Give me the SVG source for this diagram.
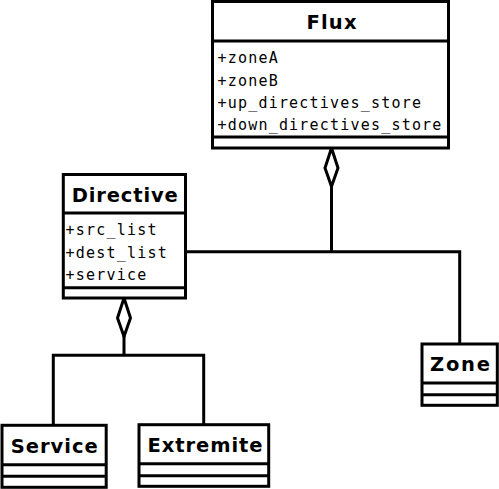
<svg xmlns="http://www.w3.org/2000/svg" width="499" height="489" viewBox="0 0 499 489">
<style>
.box{fill:#fff;stroke:#000;stroke-width:3}
.ln{fill:none;stroke:#000;stroke-width:3}
.dia{fill:#fff;stroke:#000;stroke-width:3;stroke-linejoin:miter}
.title{font-family:"DejaVu Sans",sans-serif;font-weight:bold;font-size:19.5px;text-anchor:middle;fill:#000}
.attr{font-family:"DejaVu Sans Mono",monospace;font-size:15px;letter-spacing:1.2px;fill:#000}
</style>
<rect width="499" height="489" fill="#fff"/>
<g id="connectors">
<polyline class="ln" points="331.5,186 331.5,251.7"/>
<polyline class="ln" points="185.5,251.7 459.7,251.7 459.7,344"/>
<polygon class="dia" points="331.5,148 338,168 331.5,186.5 325,168"/>
<polyline class="ln" points="124,336 124,355.3"/>
<polyline class="ln" points="53.3,425.3 53.3,355.3 203.7,355.3 203.7,424.7"/>
<polygon class="dia" points="124,298 130.5,318 124,336.5 117.5,318"/>
</g>
<g id="flux">
<rect class="box" x="212.5" y="1.5" width="236" height="146.5"/>
<line class="ln" x1="212.5" y1="41" x2="448.5" y2="41"/>
<line class="ln" x1="212.5" y1="137" x2="448.5" y2="137" stroke-width="3.5"/>
<text class="title" x="331.5" y="29.3" textLength="50" lengthAdjust="spacing">Flux</text>
<text class="attr" x="217.5" y="63.3">+zoneA</text>
<text class="attr" x="217.5" y="85.7">+zoneB</text>
<text class="attr" x="217.5" y="107.9">+up_directives_store</text>
<text class="attr" x="217.5" y="130.2">+down_directives_store</text>
</g>
<g id="directive">
<rect class="box" x="63.3" y="174.5" width="122.2" height="123.5"/>
<line class="ln" x1="63.3" y1="213" x2="185.5" y2="213"/>
<line class="ln" x1="63.3" y1="287.7" x2="185.5" y2="287.7"/>
<text class="title" x="124.7" y="202.3" textLength="106" lengthAdjust="spacing">Directive</text>
<text class="attr" x="65.6" y="235">+src_list</text>
<text class="attr" x="65.6" y="257.7">+dest_list</text>
<text class="attr" x="65.6" y="280">+service</text>
</g>
<g id="zone">
<rect class="box" x="422" y="344" width="75.3" height="61.3"/>
<line class="ln" x1="422" y1="383" x2="497.3" y2="383"/>
<line class="ln" x1="422" y1="394.7" x2="497.3" y2="394.7"/>
<text class="title" x="460" y="370.7" textLength="60" lengthAdjust="spacing">Zone</text>
</g>
<g id="service">
<rect class="box" x="2" y="425.3" width="104.2" height="62"/>
<line class="ln" x1="2" y1="464.7" x2="106.2" y2="464.7"/>
<line class="ln" x1="2" y1="476.3" x2="106.2" y2="476.3"/>
<text class="title" x="54.2" y="453.3" textLength="87" lengthAdjust="spacing">Service</text>
</g>
<g id="extremite">
<rect class="box" x="139" y="424.7" width="129.7" height="61.6"/>
<line class="ln" x1="139" y1="463.8" x2="268.7" y2="463.8"/>
<line class="ln" x1="139" y1="475.7" x2="268.7" y2="475.7"/>
<text class="title" x="205" y="451.7" textLength="115" lengthAdjust="spacing">Extremite</text>
</g>
</svg>
